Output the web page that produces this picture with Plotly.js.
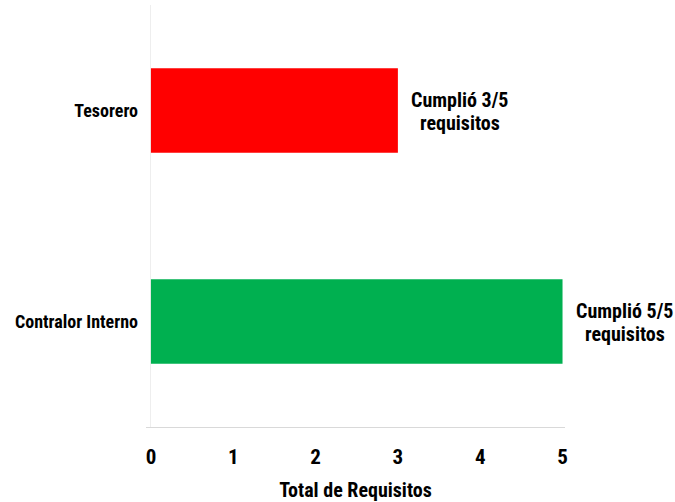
<!DOCTYPE html>
<html>
<head>
<meta charset="utf-8">
<script src="https://cdn.plot.ly/plotly-3.0.1.min.js"></script>
<style>html,body{margin:0;padding:0;background:#fff;}#chart{width:675px;height:502px;}</style>
</head>
<body>
<div id="chart"></div>
<script>
const categories = ["Contralor Interno", "Tesorero"];
const values = [5, 3];
const totals = [5, 5];
const barColors = ["#00B050", "#FF0000"];
const tickVals = [0, 1, 2, 3, 4, 5];
const labelLine1 = "Cumplió";
const labelLine2 = "requisitos";
const axisTitle = "Total de Requisitos";

const FONT = "'Roboto Condensed', 'Liberation Sans Narrow', 'Arial Narrow', sans-serif";

const trace = {
  type: "bar",
  orientation: "h",
  y: categories,
  x: values,
  marker: { color: barColors },
  hoverinfo: "skip"
};

const annFont = { family: FONT, size: 20, color: "#000", weight: "bold" };
const annotations = [];
categories.forEach((c, i) => {
  annotations.push({
    x: values[i], y: c, xref: "x", yref: "y",
    xanchor: "center", yanchor: "middle", xshift: 62, yshift: 11,
    showarrow: false,
    text: labelLine1 + " " + values[i] + "/" + totals[i],
    font: annFont
  });
  annotations.push({
    x: values[i], y: c, xref: "x", yref: "y",
    xanchor: "center", yanchor: "middle", xshift: 62, yshift: -12,
    showarrow: false,
    text: labelLine2,
    font: annFont
  });
});

const layout = {
  width: 675,
  height: 502,
  margin: { l: 146, r: 110, t: 5, b: 75 },
  paper_bgcolor: "#fff",
  plot_bgcolor: "#fff",
  showlegend: false,
  bargap: 0.6,
  font: { family: FONT, color: "#000" },
  xaxis: {
    range: [-0.06, 5.03],
    tickvals: tickVals,
    showgrid: false,
    zeroline: true,
    zerolinecolor: "#eeeeee",
    zerolinewidth: 1,
    showline: true,
    linecolor: "#d9d9d9",
    linewidth: 1,
    ticks: "",
    ticklabelstandoff: 11,
    tickfont: { family: FONT, size: 21, color: "#000", weight: "bold" },
    title: { text: axisTitle, standoff: 18, font: { family: FONT, size: 20, color: "#000", weight: "bold" } }
  },
  yaxis: {
    showgrid: false,
    zeroline: false,
    showline: false,
    ticks: "",
    ticklabelstandoff: 7,
    tickfont: { family: FONT, size: 18, color: "#000", weight: "bold" }
  },
  annotations: annotations
};

Plotly.newPlot("chart", [trace], layout, { displayModeBar: false, staticPlot: true });
</script>
</body>
</html>
